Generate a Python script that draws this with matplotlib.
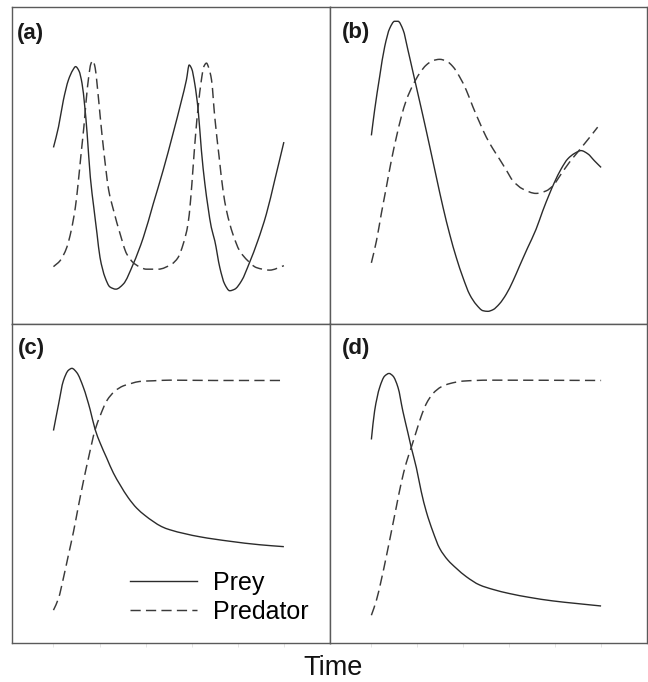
import matplotlib.pyplot as plt
from matplotlib.lines import Line2D
from matplotlib.path import Path
from matplotlib.patches import PathPatch

plt.rcParams['font.family'] = ['Liberation Sans', 'DejaVu Sans']

# values (time 0-100, population scaled 0-100 per panel)
# panel (a)
tPreyA = [0, 2.2, 4.3, 6.5, 8.4, 9.6, 11.1, 12.4, 13.6, 14.6, 16.0, 17.5, 18.9, 20.2, 22.4, 24.5, 27.1,
          30.3, 34.6, 39.0, 43.3, 47.6, 51.9, 55.6, 57.7, 58.9, 60.0, 61.3, 62.8, 64.2, 65.7, 67.1, 68.5,
          70.0, 72.2, 74.3, 76.5, 78.7, 81.6, 85.1, 88.7, 92.4, 96.0, 100]
preyA = [55.7, 62.2, 70.6, 77.0, 80.1, 81.2, 79.8, 75.9, 68.5, 60.2, 46.3, 36.8, 28.5, 21.0, 14.7, 11.7, 11.0,
         12.6, 18.9, 27.3, 37.9, 48.5, 60.1, 70.6, 77.0, 81.7, 80.5, 75.9, 67.5, 54.8, 44.3, 36.8, 30.5,
         26.3, 17.8, 12.6, 10.5, 11.0, 13.6, 19.4, 26.3, 34.7, 45.3, 57.4]
tPredA = [0, 2.9, 5.8, 7.7, 9.5, 10.7, 12.0, 13.2, 14.2, 15.3, 16.2, 17.1, 18.1, 18.9, 20.3, 21.8, 24.0,
          26.1, 28.9, 31.8, 35.4, 40.4, 45.5, 51.3, 54.1, 56.3, 58.4, 59.5, 60.6, 61.6, 62.8, 64.2, 65.2,
          66.4, 67.4, 68.6, 70.0, 71.9, 73.6, 75.1, 77.8, 80.8, 84.3, 88.1, 93.8, 100]
predA = [18.1, 20.0, 24.2, 29.5, 36.8, 44.3, 53.8, 62.2, 70.6, 78.0, 82.0, 83.1, 80.8, 75.9, 65.3, 54.8, 42.1,
         35.8, 28.5, 22.1, 18.9, 17.3, 17.3, 18.9, 21.0, 25.2, 31.6, 39.0, 49.5, 59.0, 68.5, 77.0, 81.1,
         82.3, 80.8, 77.0, 65.3, 52.7, 42.1, 35.8, 28.5, 23.1, 20.0, 17.8, 17.0, 18.4]

# panel (b)
tPreyB = [0, 1.4, 3.6, 5.8, 8.0, 10.1, 11.6, 13.8, 15.9, 18.1, 20.3, 22.5, 25.4, 28.3, 31.2, 34.1, 37.0,
          39.9, 42.8, 45.7, 48.6, 50.7, 52.9, 55.8, 58.7, 61.6, 64.5, 68.0, 71.7, 74.6, 77.5, 79.7, 82.6,
          85.5, 88.4, 91.3, 94.2, 97.1, 100]
preyB = [59.5, 67.4, 78.0, 87.5, 93.3, 95.5, 95.5, 92.8, 86.5, 79.5, 72.5, 65.5, 56.0, 46.3, 36.8, 28.3, 20.9,
         14.6, 9.3, 6.1, 4.2, 4.0, 4.5, 6.4, 9.4, 13.5, 18.3, 24.0, 29.9, 35.7, 41.0, 44.7, 48.9,
         52.1, 53.8, 54.7, 53.7, 51.5, 49.4]
tPredB = [0, 2.2, 4.3, 6.5, 8.7, 10.9, 13.0, 15.2, 18.1, 21.0, 23.9, 26.8, 29.7, 32.6, 35.5, 38.4, 41.3,
          44.2, 47.1, 50.0, 52.9, 55.8, 58.7, 61.6, 65.9, 71.7, 76.1, 79.0, 82.6, 86.2, 89.8, 92.7, 95.7, 98.5]
predB = [19.3, 26.2, 34.7, 43.1, 51.6, 59.0, 65.3, 70.6, 75.4, 79.1, 81.7, 83.1, 83.5, 83.0, 81.2, 78.0, 73.8,
         68.5, 63.6, 59.0, 55.3, 52.0, 48.6, 45.2, 42.6, 41.2, 42.0, 43.6, 47.3, 51.0, 54.2, 56.8, 59.5, 62.1]

# panel (c)
tPreyC = [0, 2.2, 4.3, 6.5, 8.0, 10.1, 13.0, 15.9, 18.1, 20.2, 23.1, 26.0, 28.9, 32.5, 36.1, 39.7, 43.3,
          46.9, 50.5, 63.5, 76.5, 89.5, 100]
preyC = [66.6, 74.8, 82.2, 85.5, 86.1, 84.8, 80.1, 73.2, 66.9, 62.8, 58.0, 53.3, 49.6, 45.5, 42.3, 40.0, 38.1,
         36.5, 35.5, 33.3, 31.9, 30.8, 30.2]
tPredC = [0, 2.2, 4.3, 6.5, 8.7, 10.8, 13.0, 15.2, 18.1, 20.2, 23.1, 26.7, 30.3, 33.9, 37.5, 43.3, 50.5, 70, 100]
predC = [10.3, 14.0, 20.3, 27.6, 34.9, 42.8, 50.7, 58.0, 66.9, 71.1, 75.9, 79.0, 80.6, 81.4, 82.0, 82.2, 82.4,
         82.3, 82.3]

# panel (d)
tPreyD = [0, 1.4, 3.6, 5.8, 7.7, 9.4, 11.6, 13.7, 15.9, 17.4, 19.6, 21.7, 23.9, 26.8, 29.7, 33.3, 37.0,
          41.3, 47.1, 52.9, 60.1, 68.8, 78.9, 89.1, 100]
preyD = [63.8, 72.7, 80.1, 83.7, 84.5, 83.7, 80.1, 72.7, 65.9, 61.2, 54.9, 47.5, 41.2, 34.9, 29.7, 26.0, 23.4,
         20.8, 18.2, 16.8, 15.5, 14.3, 13.2, 12.4, 11.6]
tPredD = [0, 2.2, 4.3, 6.5, 8.7, 10.9, 13.0, 15.2, 17.4, 19.6, 21.7, 23.9, 26.8, 30.4, 34.0, 39.8, 51.4, 100]
predD = [8.7, 13.4, 19.7, 27.1, 34.9, 42.8, 50.2, 56.5, 61.4, 66.4, 71.1, 75.0, 78.2, 80.3, 81.3, 82.1, 82.4,
         82.3]

panelLabels = ['(a)', '(b)', '(c)', '(d)']
seriesNames = ['Prey', 'Predator']
xTicks = [0, 20, 40, 60, 80, 100]

panels = [
    (tPreyA, preyA, tPredA, predA),
    (tPreyB, preyB, tPredB, predB),
    (tPreyC, preyC, tPredC, predC),
    (tPreyD, preyD, tPredD, predD),
]

lineColor = '#2b2b2b'
dashColor = '#3a3a3a'
dashStyle = (0, (7, 3.6))


def smooth_path(x, y):
    # monotone cubic (Fritsch-Carlson) through the read points, as bezier segments
    n = len(x)
    h = [x[k + 1] - x[k] for k in range(n - 1)]
    d = [(y[k + 1] - y[k]) / h[k] for k in range(n - 1)]
    m = [d[0]] + [0.0] * (n - 2) + [d[-1]]
    for k in range(1, n - 1):
        if d[k - 1] * d[k] > 0:
            w1 = 2 * h[k] + h[k - 1]
            w2 = h[k] + 2 * h[k - 1]
            m[k] = (w1 + w2) / (w1 / d[k - 1] + w2 / d[k])
    verts = [(x[0], y[0])]
    codes = [Path.MOVETO]
    for k in range(n - 1):
        verts += [(x[k] + h[k] / 3, y[k] + m[k] * h[k] / 3),
                  (x[k + 1] - h[k] / 3, y[k + 1] - m[k + 1] * h[k] / 3),
                  (x[k + 1], y[k + 1])]
        codes += [Path.CURVE4] * 3
    return Path(verts, codes)


fig = plt.figure(figsize=(6.48, 6.82), dpi=100)

# axes boxes: [left, bottom, width, height]
boxes = [
    [0.0185, 0.5249, 0.4907, 0.4648],
    [0.5093, 0.5249, 0.4892, 0.4648],
    [0.0185, 0.0572, 0.4907, 0.4677],
    [0.5093, 0.0572, 0.4892, 0.4677],
]
labelPos = [(0.016, 0.918), (0.037, 0.92), (0.02, 0.923), (0.037, 0.923)]

axes = []
for i, (tp, yp, td, yd) in enumerate(panels):
    ax = fig.add_axes(boxes[i])
    ax.add_patch(PathPatch(smooth_path(tp, yp), fill=False, edgecolor=lineColor, lw=1.0))
    ax.add_patch(PathPatch(smooth_path(td, yd), fill=False, edgecolor=dashColor, lw=1.05,
                           linestyle=dashStyle, capstyle='butt'))
    ax.set_xlim(-18, 120)
    ax.set_ylim(0, 100)
    ax.set_xticks(xTicks)
    ax.set_yticks([])
    ax.tick_params(axis='x', length=3, width=0.6, color='#e0e0e0', labelbottom=False)
    for s in ax.spines.values():
        s.set_color('#5a5a5a')
        s.set_linewidth(1.0)
    ax.text(labelPos[i][0], labelPos[i][1], panelLabels[i], transform=ax.transAxes,
            fontsize=16, fontweight='bold', va='center', ha='left', color='#1a1a1a')
    axes.append(ax)

# legend in panel (c)
handles = [Line2D([], [], color=lineColor, lw=1.0),
           Line2D([], [], color=dashColor, lw=1.05, linestyle=dashStyle)]
axes[2].legend(handles, seriesNames, loc='center left', bbox_to_anchor=(0.371, 0.1426),
               frameon=False, fontsize=18, handlelength=2.67, handletextpad=0.64,
               labelspacing=0.2, borderpad=0, borderaxespad=0)

fig.text(0.5136, 1 - 675 / 682, 'Time', fontsize=19.5, ha='center', va='baseline', color='#111111')

fig.savefig('out.png', dpi=100, facecolor='white')
